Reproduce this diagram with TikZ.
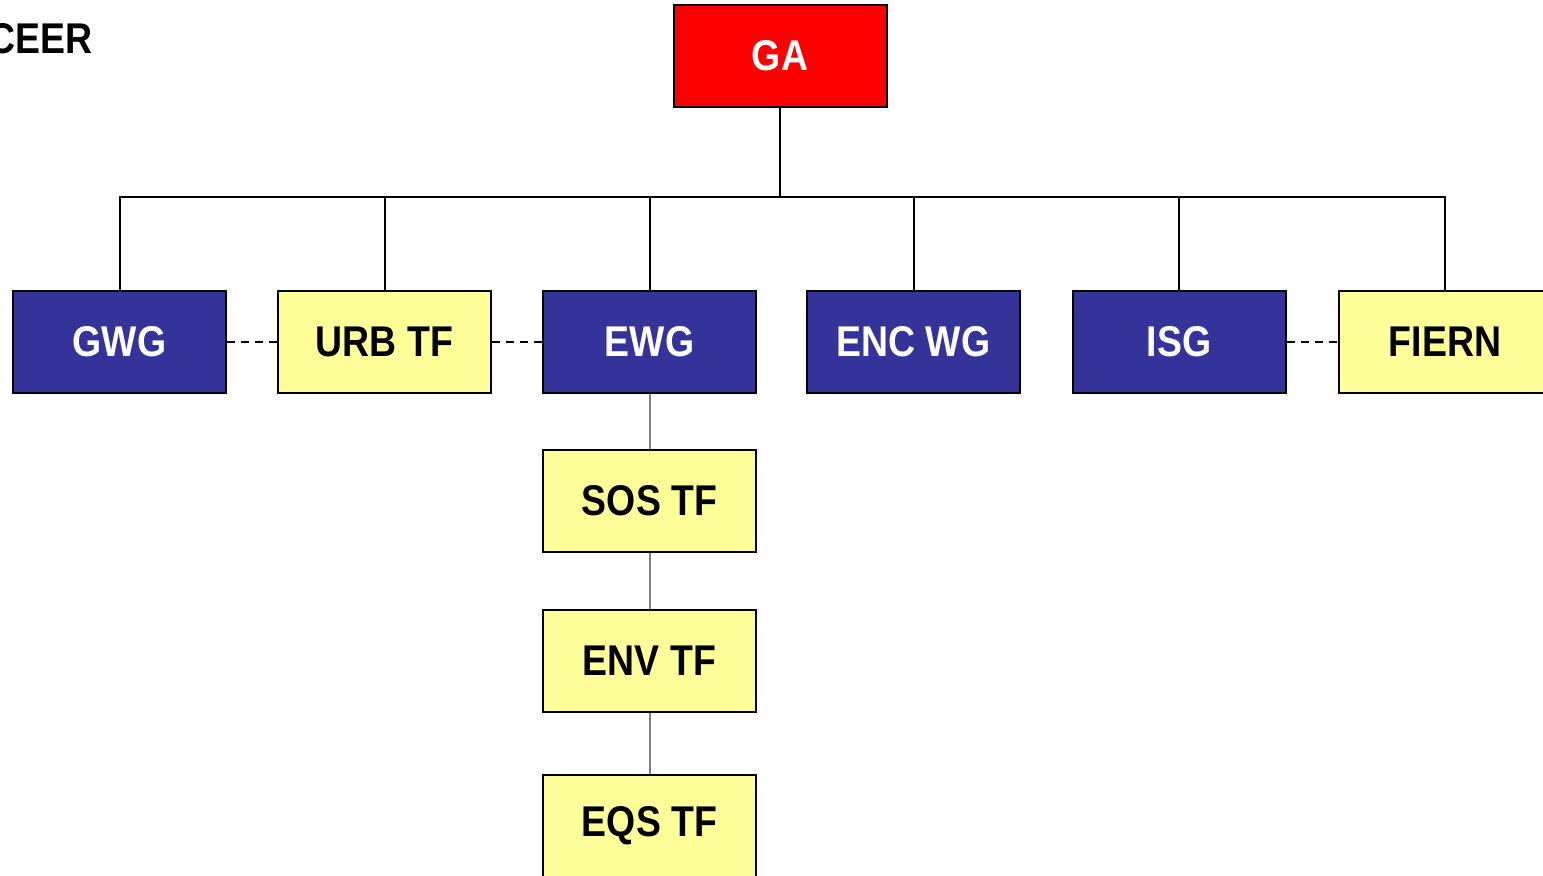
\documentclass[tikz,border=0pt]{standalone}
\usepackage{fontspec}
\setmainfont{Liberation Sans}
\newfontfamily\boxfont[FakeStretch=0.87]{Liberation Sans}
\usepackage{tikz}

\definecolor{wgblue}{HTML}{333399}
\definecolor{tfyellow}{HTML}{FFFF99}
\definecolor{garred}{HTML}{FF0000}

\tikzset{
  unit/.style={draw=black, line width=1pt, minimum width=106.5pt, minimum height=51pt, inner sep=0pt,
    font=\boxfont\fontsize{21.5}{24}\selectfont\bfseries},
  wg/.style={unit, fill=wgblue, text=white},
  tf/.style={unit, fill=tfyellow, text=black},
  ga/.style={unit, fill=garred, text=white},
  link/.style={line width=1pt},
  sublink/.style={line width=1pt, gray},
  peer/.style={line width=1pt, dashed, dash pattern=on 4pt off 3pt}
}

\begin{document}
\begin{tikzpicture}[x=0.5pt,y=-0.5pt]
\clip (0,0) rectangle (1543,875);
\fill[white] (0,0) rectangle (1543,875);
\node[anchor=base east, inner sep=0pt, font=\boxfont\fontsize{21.5}{24}\selectfont\bfseries] (title) at (93,53) {CEER};
\node[ga] (ga) at (780,56) {GA};
\node[wg] (gwg) at (119.5,342) {GWG};
\node[tf] (urb) at (384.5,342) {URB TF};
\node[wg] (ewg) at (649.5,342) {EWG};
\node[wg] (enc) at (913.5,342) {ENC WG};
\node[wg] (isg) at (1179,342) {ISG};
\node[tf] (fiern) at (1445,342) {FIERN};
\node[tf] (sos) at (649.5,501) {SOS TF};
\node[tf] (env) at (649.5,660.5) {ENV TF};
\node[tf] (eqs) at (649.5,826) {EQS TF};
\coordinate (bus) at (780,197);
\draw[link] (ga.south) -- (bus);
\foreach \n in {gwg,urb,ewg,enc,isg,fiern}
  \draw[link] (\n.north) |- (bus);
\draw[peer] (gwg) -- (urb);
\draw[peer] (urb) -- (ewg);
\draw[peer] (isg) -- (fiern);
\draw[sublink] (ewg) -- (sos);
\draw[sublink] (sos) -- (env);
\draw[sublink] (env) -- (eqs);
\end{tikzpicture}
\end{document}
